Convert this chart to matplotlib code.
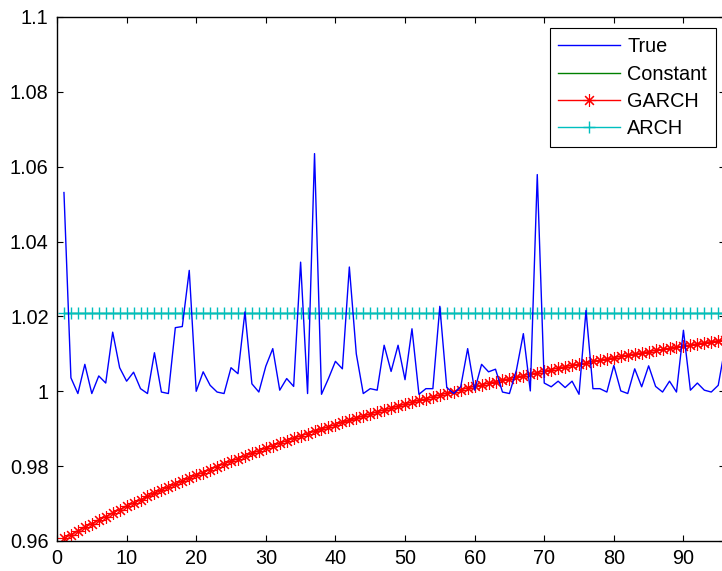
import matplotlib
matplotlib.use("Agg")
import matplotlib.pyplot as plt

t_index = list(range(1, 97))

true_vals = [
    1.0531, 1.0036, 0.9994, 1.0072, 0.9994, 1.0041, 1.0022, 1.0158, 1.0063, 1.0027,
    1.0051, 1.0007, 0.9994, 1.0103, 0.9998, 0.9994, 1.0170, 1.0173, 1.0323, 1.0000,
    1.0052, 1.0016, 0.9998, 0.9994, 1.0063, 1.0047, 1.0212, 1.0020, 0.9998, 1.0067,
    1.0114, 1.0003, 1.0034, 1.0013, 1.0345, 0.9994, 1.0635, 0.9992, 1.0034, 1.0080,
    1.0060, 1.0332, 1.0100, 0.9994, 1.0007, 1.0003, 1.0123, 1.0053, 1.0123, 1.0031,
    1.0167, 0.9992, 1.0007, 1.0007, 1.0227, 1.0010, 0.9994, 1.0012, 1.0114, 1.0003,
    1.0072, 1.0052, 1.0059, 0.9998, 0.9994, 1.0056, 1.0154, 1.0001, 1.0579, 1.0022,
    1.0012, 1.0027, 1.0010, 1.0027, 0.9992, 1.0216, 1.0007, 1.0007, 0.9998, 1.0069,
    1.0001, 0.9994, 1.0060, 1.0012, 1.0068, 1.0013, 0.9998, 1.0027, 0.9998, 1.0163,
    1.0003, 1.0022, 1.0003, 0.9998, 1.0016, 1.0120,
]

constant_level = 1.0208
arch_level = 1.0209

garch_vals = [
    0.9607, 0.9617, 0.9627, 0.9637, 0.9646, 0.9656, 0.9665, 0.9675, 0.9684, 0.9693,
    0.9701, 0.9710, 0.9719, 0.9727, 0.9736, 0.9744, 0.9752, 0.9760, 0.9768, 0.9776,
    0.9783, 0.9791, 0.9799, 0.9806, 0.9813, 0.9820, 0.9827, 0.9834, 0.9841, 0.9848,
    0.9855, 0.9861, 0.9868, 0.9874, 0.9881, 0.9887, 0.9893, 0.9899, 0.9905, 0.9911,
    0.9917, 0.9922, 0.9928, 0.9934, 0.9939, 0.9945, 0.9950, 0.9955, 0.9960, 0.9966,
    0.9971, 0.9976, 0.9980, 0.9985, 0.9990, 0.9995, 0.9999, 1.0004, 1.0009, 1.0013,
    1.0017, 1.0022, 1.0026, 1.0030, 1.0034, 1.0038, 1.0042, 1.0046, 1.0050, 1.0054,
    1.0058, 1.0062, 1.0066, 1.0069, 1.0073, 1.0076, 1.0080, 1.0083, 1.0087, 1.0090,
    1.0093, 1.0097, 1.0100, 1.0103, 1.0106, 1.0109, 1.0112, 1.0115, 1.0118, 1.0121,
    1.0124, 1.0127, 1.0130, 1.0133, 1.0135, 1.0138,
]

series_labels = ["True", "Constant", "GARCH", "ARCH"]
x_ticks = [0, 10, 20, 30, 40, 50, 60, 70, 80, 90]
y_ticks = [0.96, 0.98, 1.0, 1.02, 1.04, 1.06, 1.08, 1.1]
y_tick_labels = ["0.96", "0.98", "1", "1.02", "1.04", "1.06", "1.08", "1.1"]

plt.rcParams['font.family'] = ['Liberation Sans', 'DejaVu Sans']
FS = 14.3

W, H = 722, 571
fig = plt.figure(figsize=(W / 100, H / 100), dpi=100)
left_px, right_px, top_px, bottom_px = 57, 725.2, 17, 541
ax = fig.add_axes([left_px / W, 1 - bottom_px / H,
                   (right_px - left_px) / W, (bottom_px - top_px) / H])

ax.plot(t_index, true_vals, color=(0, 0, 1), lw=1.0, label=series_labels[0], zorder=3)
ax.plot(t_index, [constant_level] * len(t_index), color=(0, 0.5, 0), lw=1.0,
        label=series_labels[1], zorder=2)
ax.plot(t_index, garch_vals, color=(1, 0, 0), lw=1.0, marker=(8, 2, 0), markersize=9,
        markeredgewidth=0.8, label=series_labels[2], zorder=2.5)
ax.plot(t_index, [arch_level] * len(t_index), color=(0, 0.75, 0.75), lw=1.0,
        marker='+', markersize=9, markeredgewidth=1.0,
        label=series_labels[3], zorder=2.2)

ax.set_xlim(0, 96)
ax.set_ylim(0.96, 1.1)
ax.set_xticks(x_ticks)
ax.set_yticks(y_ticks)
ax.set_yticklabels(y_tick_labels)
ax.tick_params(direction='in', length=4, width=0.8, top=True, right=True,
               labelsize=FS, pad=6)
for s in ax.spines.values():
    s.set_linewidth(1.0)

leg = ax.legend(loc='upper right', bbox_to_anchor=(715.7 / W, 1 - 28.3 / H),
                bbox_transform=fig.transFigure, borderaxespad=0,
                fontsize=FS, frameon=True, fancybox=False, framealpha=1,
                edgecolor='black', handlelength=3.1, handletextpad=0.35,
                labelspacing=0.42, borderpad=0.45, numpoints=1)
leg.get_frame().set_linewidth(0.8)

fig.savefig("out.png", dpi=100)
